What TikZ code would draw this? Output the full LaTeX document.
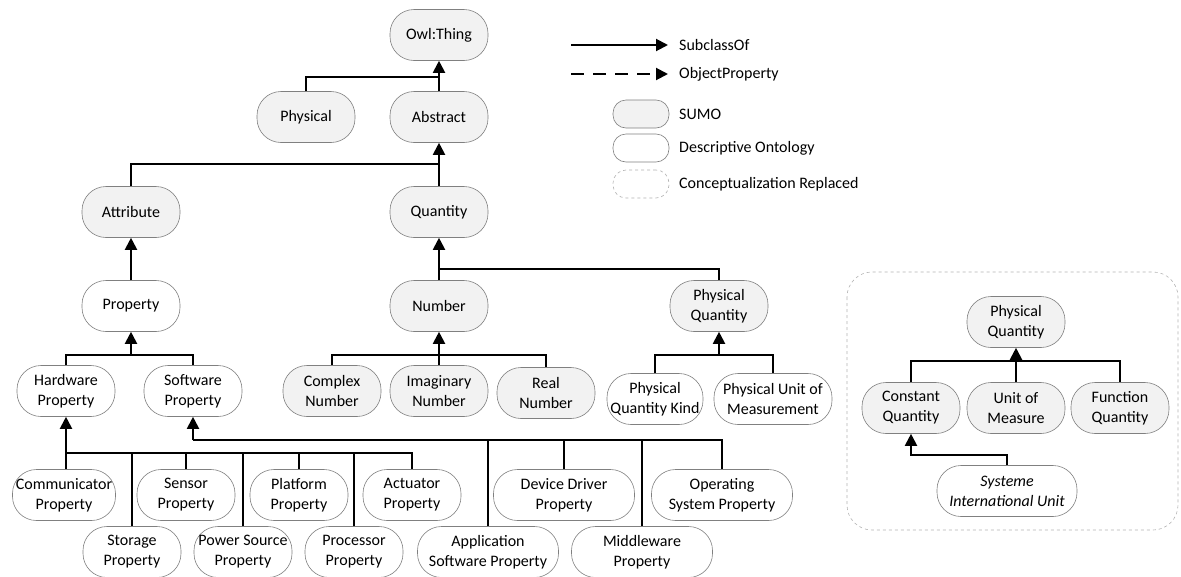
\documentclass[tikz,border=0pt]{standalone}
\usepackage{fontspec}
\setmainfont{Carlito}
\usetikzlibrary{arrows.meta}
\begin{document}
\begin{tikzpicture}[x=1pt,y=-1pt,
  every node/.style={font=\fontsize{16}{20}\selectfont},
  cls/.style={draw=black!50, line width=0.6pt, rounded corners=24pt,
    minimum width=98pt, minimum height=51pt, align=center, inner sep=2pt},
  sumo/.style={cls, fill=black!5},
  desc/.style={cls, fill=white},
  repl/.style={cls, fill=white, draw=black!30, dashed},
  link/.style={line width=2pt},
  isa/.style={link, -{Triangle[width=12pt,length=12pt]}},
  objprop/.style={isa, dash pattern=on 13pt off 9pt},
  lbl/.style={anchor=west, inner sep=0pt}
]
\useasboundingbox (0,0) rectangle (1181,576);

% ---------- SUMO upper ontology ----------
\node[sumo] (owl)  at (439,35)  {Owl:Thing};
\node[sumo] (phys) at (306,117) {Physical};
\node[sumo] (abs)  at (439,117) {Abstract};
\node[sumo] (attr) at (131,212) {Attribute};
\node[sumo] (qty)  at (439,212) {Quantity};
\node[desc] (prop) at (131,306) {Property};
\node[sumo] (num)  at (439,306) {Number};
\node[sumo] (pq)   at (719,306) {Physical\\Quantity};

\node[desc] (hw)   at (66,391)  {Hardware\\Property};
\node[desc] (sw)   at (193,391) {Software\\Property};
\node[sumo] (cplx) at (332,391) {Complex\\Number};
\node[sumo] (imag) at (439,391) {Imaginary\\Number};
\node[sumo] (real) at (546,393) {Real\\Number};
\node[desc, minimum width=96pt]  (pqk) at (655,399) {Physical\\Quantity Kind};
\node[desc, minimum width=118pt] (pum) at (773,399) {Physical Unit of\\Measurement};

% ---------- hardware / software properties ----------
\node[desc, minimum width=103pt] (comm) at (64,495)  {Communicator\\Property};
\node[desc] (sens) at (186,495) {Sensor\\Property};
\node[desc] (plat) at (299,495) {Platform\\Property};
\node[desc] (act)  at (412,495) {Actuator\\Property};
\node[desc] (stor) at (132,552) {Storage\\Property};
\node[desc] (pow)  at (243,552) {Power Source\\Property};
\node[desc] (proc) at (354,552) {Processor\\Property};
\node[desc, minimum width=141pt] (ddrv) at (564,495) {Device Driver\\Property};
\node[desc, minimum width=141pt] (os)   at (722,495) {Operating\\System Property};
\node[desc, minimum width=141pt] (app)  at (488,552) {Application\\Software Property};
\node[desc, minimum width=141pt] (mid)  at (642,552) {Middleware\\Property};

% ---------- subclass links ----------
\draw[link] (phys.north) |- (owl.south |- 0,77);
\draw[isa]  (abs.north) -- (owl.south);

\draw[link] (attr.north) |- (abs.south |- 0,164);
\draw[isa]  (qty.north) -- (abs.south);

\draw[isa]  (prop.north) -- (attr.south);

\draw[isa]  (num.north) -- (qty.south);
\draw[link] (pq.north) |- (qty.south |- 0,269);

\draw[link] (hw.north) |- (prop.south |- 0,355) -| (sw.north);
\draw[isa]  (prop.south |- 0,355) -- (prop.south);

\draw[link] (cplx.north) |- (num.south |- 0,355) -| (real.north);
\draw[isa]  (imag.north) -- (num.south);

\draw[link] (pqk.north) |- (pq.south |- 0,355) -| (pum.north);
\draw[isa]  (pq.south |- 0,355) -- (pq.south);

% hardware bus
\draw[link] (hw.south |- comm.north) |- (act.north |- 0,453) -- (act.north);
\draw[isa]  (hw.south |- 0,453) -- (hw.south);
\foreach \n in {stor,sens,pow,plat,proc}
  \draw[link] (\n.north) -- (\n.north |- 0,453);

% software bus
\draw[link] (sw.south |- 0,440) -| (os.north);
\draw[isa]  (sw.south |- 0,440) -- (sw.south);
\foreach \n in {app,ddrv,mid}
  \draw[link] (\n.north) -- (\n.north |- 0,440);

% ---------- legend ----------
\coordinate (l1a) at (571,45);  \coordinate (l1b) at (668,45);
\coordinate (l2a) at (571,74);  \coordinate (l2b) at (668,74);
\draw[isa] (l1a) -- (l1b);
\draw[objprop] (l2a) -- (l2b);
\node[lbl] (t1) at (679,45) {SubclassOf};
\node[lbl] (t2) at (679,74) {ObjectProperty};
\node[sumo, minimum width=56pt, minimum height=28pt, rounded corners=13pt] (ls) at (641,114) {};
\node[desc, minimum width=56pt, minimum height=28pt, rounded corners=13pt] (ld) at (641,148) {};
\node[repl, minimum width=56pt, minimum height=28pt, rounded corners=13pt] (lr) at (641,184) {};
\node[lbl] (t3) at (679,114) {SUMO};
\node[lbl] (t4) at (679,148) {Descriptive Ontology};
\node[lbl] (t5) at (679,184) {Conceptualization Replaced};

% ---------- replaced conceptualization ----------
\draw[draw=black!30, line width=0.6pt, dashed, rounded corners=25pt]
  (847,272) rectangle (1178,530);
\node[sumo] (rpq) at (1016,322) {Physical\\Quantity};
\node[sumo] (cq)  at (911,408)  {Constant\\Quantity};
\node[sumo] (um)  at (1016,408) {Unit of\\Measure};
\node[sumo] (fq)  at (1120,408) {Function\\Quantity};
\node[desc, minimum width=140pt, font=\fontsize{16}{20}\selectfont\itshape] (siu) at (1007,491) {Systeme\\International Unit};

\draw[link] (cq.north) |- (rpq.south |- 0,361) -| (fq.north);
\draw[isa]  (um.north) -- (rpq.south);
\draw[isa]  (siu.north) |- (cq.south |- 0,455) -- (cq.south);
\end{tikzpicture}
\end{document}
